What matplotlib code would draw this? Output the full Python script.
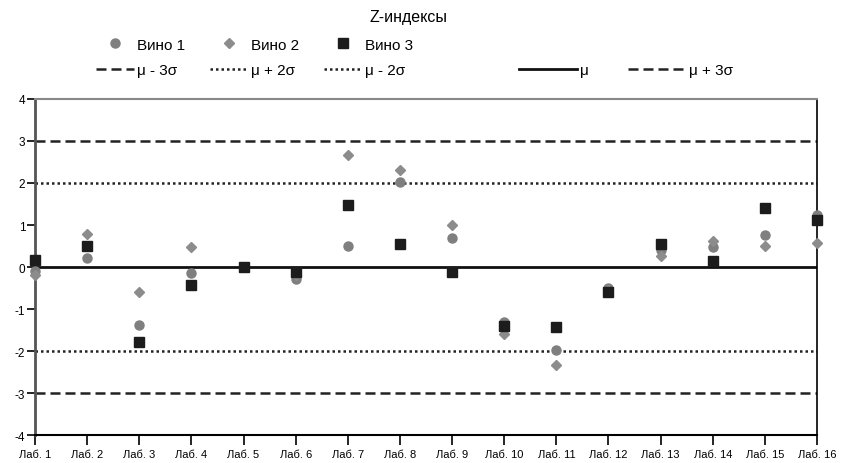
import matplotlib.pyplot as plt
from matplotlib.lines import Line2D

plt.rcParams['font.family'] = ['Liberation Sans', 'DejaVu Sans']
plt.rcParams['axes.unicode_minus'] = False

labs = ['Лаб. ' + str(i) for i in range(1, 17)]
wine1 = [-0.1, 0.21, -1.38, -0.15, 0.0, -0.28, 0.49, 2.02, 0.69, -1.3, -1.98, -0.5, 0.4, 0.47, 0.76, 1.25]
wine2 = [-0.2, 0.78, -0.6, 0.47, 0.0, -0.2, 2.67, 2.31, 1.0, -1.6, -2.33, -0.55, 0.27, 0.62, 0.5, 0.58]
wine3 = [0.17, 0.5, -1.79, -0.42, 0.0, -0.12, 1.48, 0.55, -0.12, -1.4, -1.42, -0.6, 0.55, 0.14, 1.4, 1.12]
mu, sigma = 0, 1

x = list(range(1, 17))

fig = plt.figure(figsize=(8.42, 4.64), dpi=100)
ax = fig.add_axes([0.0416, 0.0603, 0.9287, 0.7242])

# control lines
ax.axhline(mu - 3 * sigma, color='#222222', lw=1.8, ls=(0, (4, 2)), label='μ - 3σ')
ax.axhline(mu + 2 * sigma, color='#222222', lw=1.8, ls=(0, (1, 1.2)), label='μ + 2σ')
ax.axhline(mu - 2 * sigma, color='#222222', lw=1.8, ls=(0, (1, 1.2)), label='μ - 2σ')
ax.axhline(mu, color='#111111', lw=2.0, ls='-', label='μ')
ax.axhline(mu + 3 * sigma, color='#222222', lw=1.8, ls=(0, (4, 2)), label='μ + 3σ')

# points
ax.plot(x, wine1, 'o', color='#7f7f7f', ms=6.5, clip_on=False, zorder=3, label='Вино 1')
ax.plot(x, wine2, 'D', color='#8c8c8c', ms=5.5, clip_on=False, zorder=3, label='Вино 2')
ax.plot(x, wine3, 's', color='#1c1c1c', ms=6.5, clip_on=False, zorder=4, label='Вино 3')

ax.set_xlim(1, 16)
ax.set_ylim(-4, 4)
ax.set_xticks(x)
ax.set_xticklabels(labs, fontsize=8)
ax.set_yticks(range(-4, 5))
ax.tick_params(axis='y', labelsize=8.5, length=6, width=1.2, pad=1)
ax.tick_params(axis='x', length=7, width=1.2, pad=3)

ax.spines['left'].set_linewidth(2)
ax.spines['left'].set_color('#555555')
ax.spines['top'].set_color('#888888')
ax.spines['top'].set_linewidth(1.5)
ax.spines['right'].set_linewidth(1.2)
ax.spines['bottom'].set_linewidth(1.5)

fig.text(0.485, 0.962, 'Z-индексы', ha='center', va='center', fontsize=11.5)

h, l = ax.get_legend_handles_labels()
blank = Line2D([], [], lw=0, marker='')
kw = dict(frameon=False, fontsize=11, handletextpad=0.2,
          labelspacing=0.75, borderpad=0)
leg1 = fig.legend([h[5], h[0], h[6], h[1], h[7], h[2]],
                  [l[5], l[0], l[6], l[1], l[7], l[2]],
                  ncol=3, loc='center left', bbox_to_anchor=(0.105, 0.874),
                  columnspacing=1.6, handlelength=2.5, **kw)
leg2 = fig.legend([blank, h[3], blank, h[4]], ['', l[3], '', l[4]],
                  ncol=2, loc='center left', bbox_to_anchor=(0.607, 0.874),
                  columnspacing=2.6, handlelength=3.8, **kw)

fig.savefig('out.png', dpi=100)
